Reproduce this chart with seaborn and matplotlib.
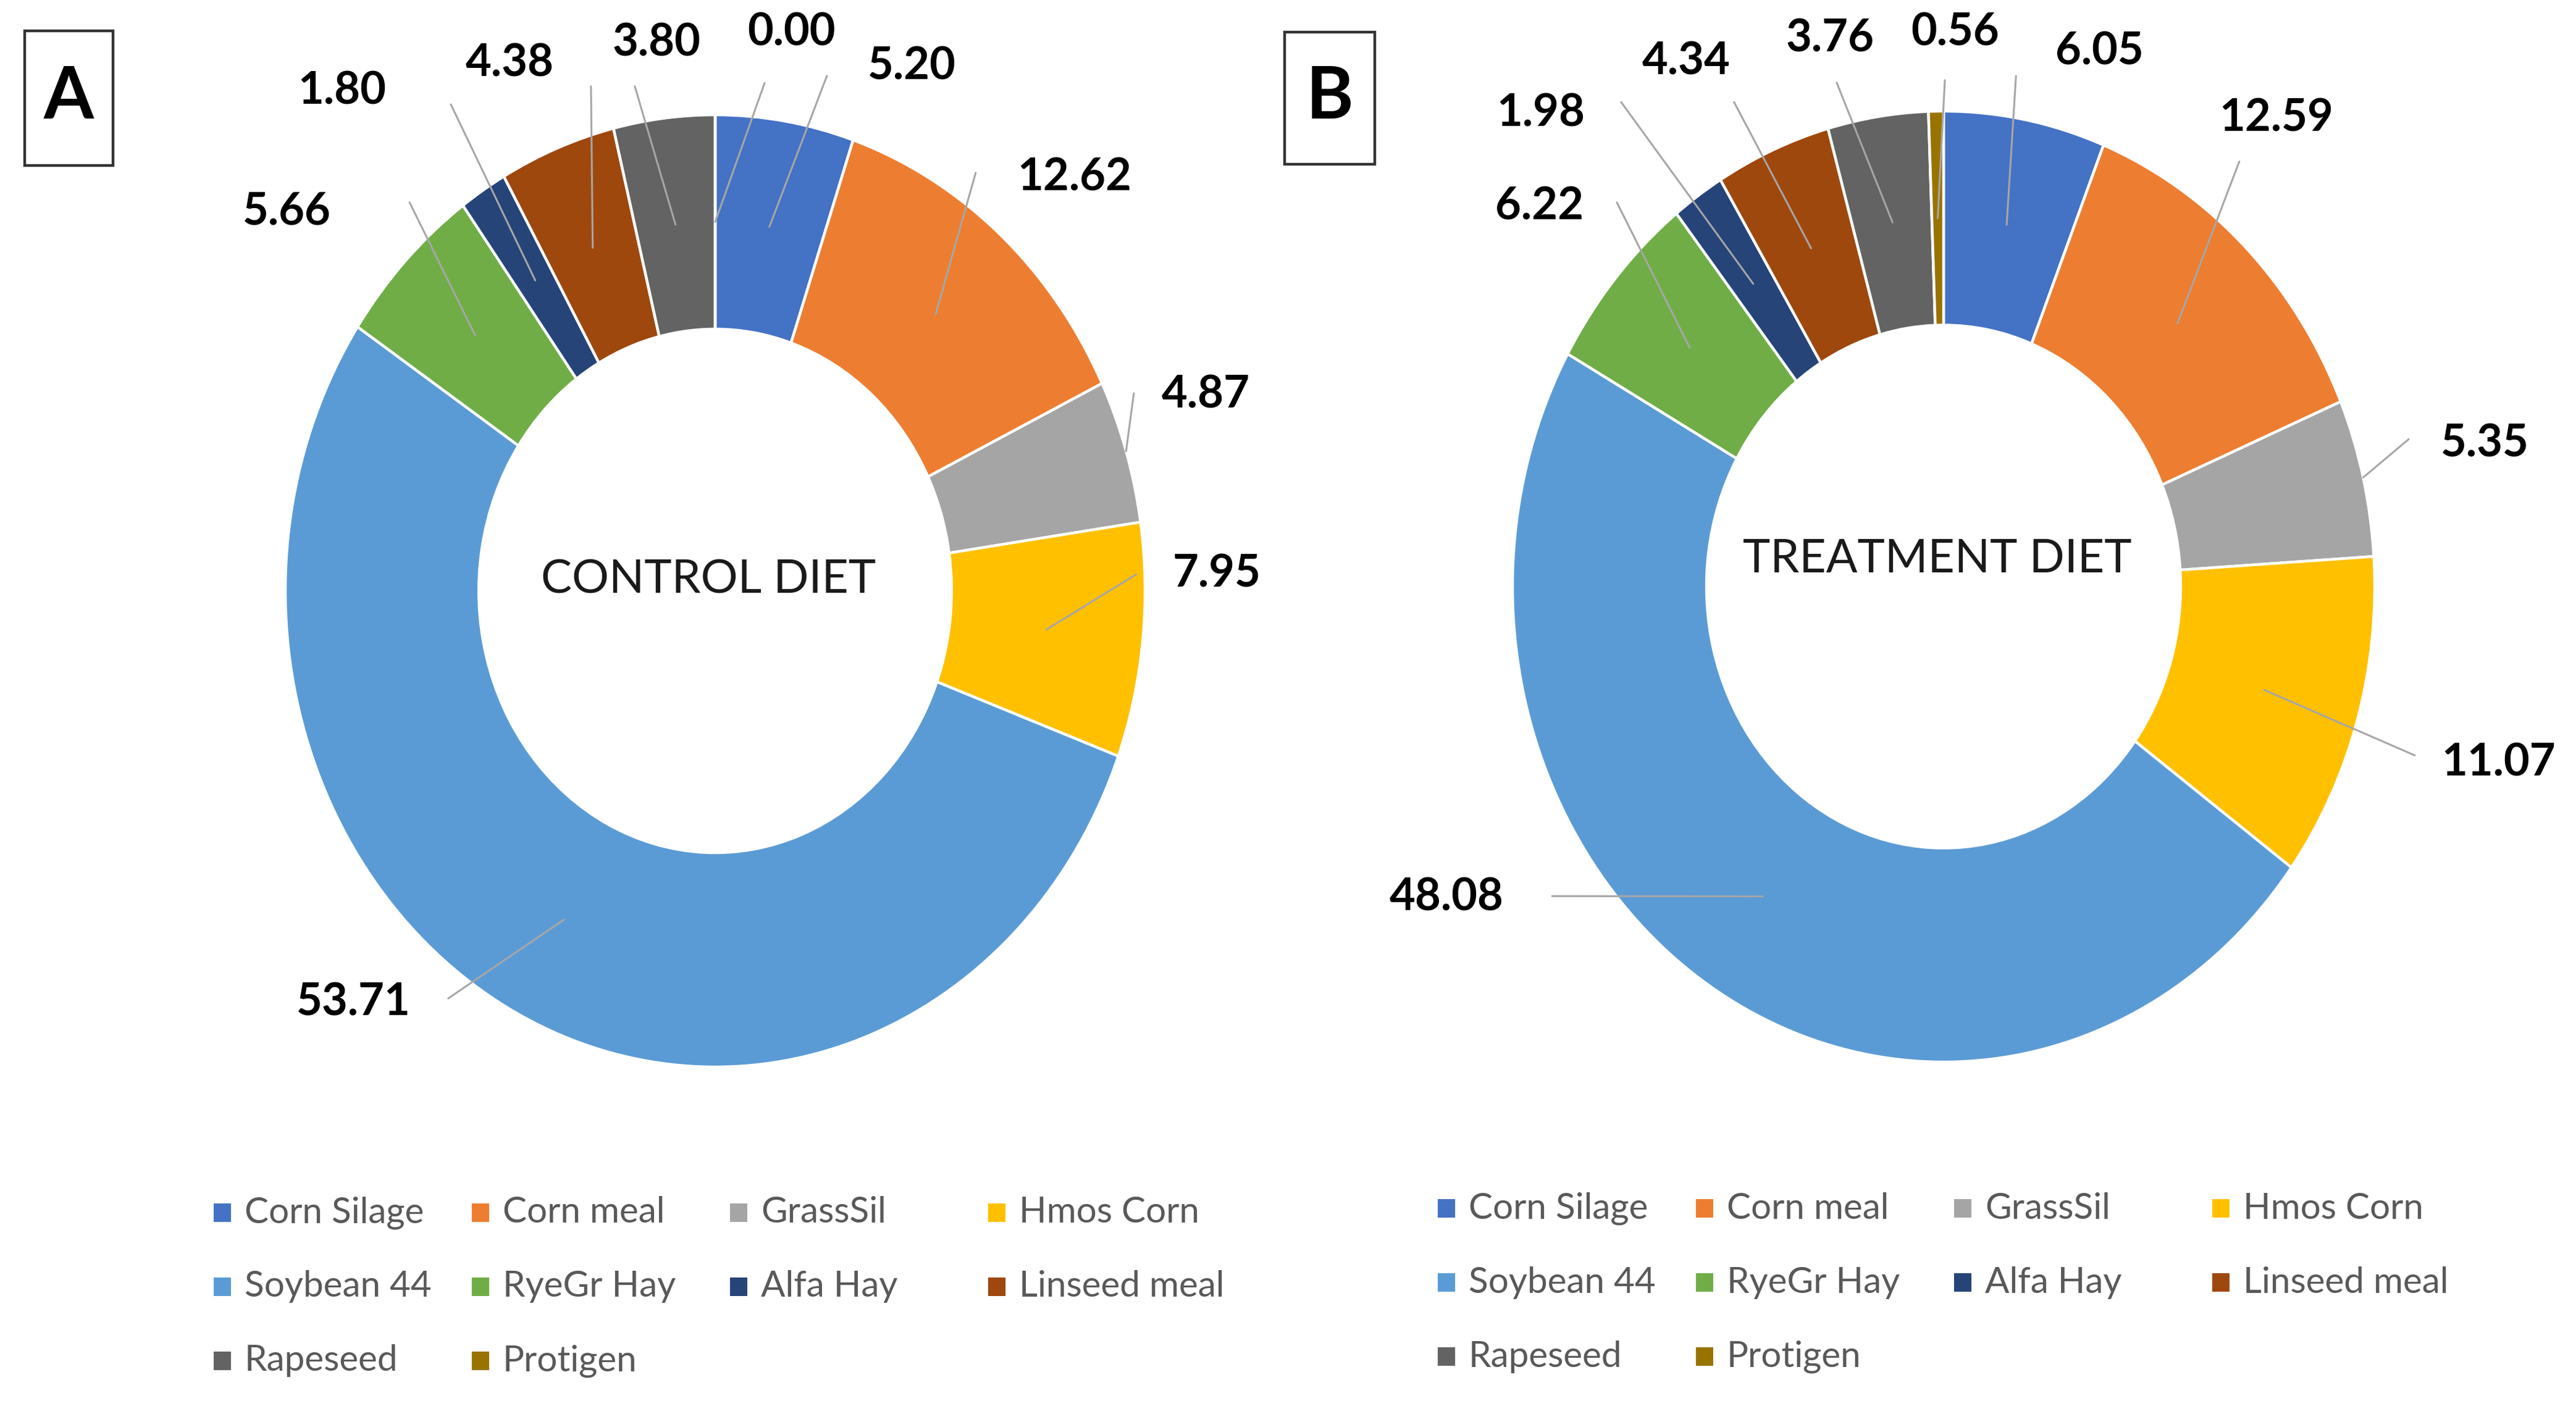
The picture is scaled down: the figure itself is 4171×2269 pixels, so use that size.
import numpy as np
import matplotlib
matplotlib.use("Agg")
import matplotlib.pyplot as plt
import seaborn as sns
from matplotlib.patches import Rectangle

# --- data ---
categories = ["Corn Silage", "Corn meal", "GrassSil", "Hmos Corn", "Soybean 44",
              "RyeGr Hay", "Alfa Hay", "Linseed meal", "Rapeseed", "Protigen"]
control_values = [5.20, 12.62, 4.87, 7.95, 53.71, 5.66, 1.80, 4.38, 3.80, 0.00]
treatment_values = [6.05, 12.59, 5.35, 11.07, 48.08, 6.22, 1.98, 4.34, 3.76, 0.56]
colors = ["#4472C4", "#ED7D31", "#A5A5A5", "#FFC000", "#5B9BD5",
          "#70AD47", "#264478", "#9E480E", "#636363", "#997300"]

# label positions (data units of each donut, radius = 1)
text_pos_A = [(0.457, 1.101), (0.836, 0.868), (1.141, 0.411), (1.167, 0.035), (-0.841, -0.865),
              (-0.996, 0.796), (-0.868, 1.049), (-0.478, 1.108), (-0.136, 1.150), (0.178, 1.173)]
line_end_A = [(0.260, 1.082), (0.606, 0.878), (0.974, 0.415), (0.980, 0.035), (-0.621, -0.856),
              (-0.711, 0.816), (-0.615, 1.022), (-0.289, 1.060), (-0.187, 1.060), (0.115, 1.067)]
text_pos_B = [(0.362, 1.125), (0.772, 0.984), (1.255, 0.300), (1.287, -0.371), (-1.153, -0.655),
              (-0.937, 0.799), (-0.935, 0.995), (-0.597, 1.104), (-0.263, 1.152), (0.027, 1.165)]
line_end_B = [(0.168, 1.074), (0.686, 0.894), (1.079, 0.310), (1.093, -0.355), (-0.908, -0.651),
              (-0.758, 0.808), (-0.748, 1.019), (-0.486, 1.019), (-0.248, 1.060), (0.003, 1.065)]

W, H, DPI = 4171, 2269, 200

sns.set_theme(style="white")
plt.rcParams['font.family'] = ['Lato', 'DejaVu Sans']
palette = sns.color_palette(colors)

fig = plt.figure(figsize=(W / DPI, H / DPI), dpi=DPI)
fig.patch.set_facecolor("white")

panels = [
    dict(values=control_values, title="CONTROL DIET", letter="A", cx=1158, cy=957, rx=696, ry=771,
         text_pos=text_pos_A, line_end=line_end_A, title_xy=(-0.016, 0.023),
         box=(40, 50, 183, 268), leg=(346, 1964)),
    dict(values=treatment_values, title="TREATMENT DIET", letter="B", cx=3147, cy=950, rx=698, ry=770,
         text_pos=text_pos_B, line_end=line_end_B, title_xy=(-0.014, 0.058),
         box=(2080, 52, 2226, 266), leg=(2328, 1957)),
]

for p in panels:
    ax = fig.add_axes([(p["cx"] - p["rx"]) / W, (H - p["cy"] - p["ry"]) / H,
                       2 * p["rx"] / W, 2 * p["ry"] / H])
    wedges, _ = ax.pie(p["values"], colors=palette, startangle=90, counterclock=False,
                       wedgeprops=dict(width=0.45, edgecolor="white", linewidth=1.6))
    ax.set_aspect("auto")
    ax.set_xlim(-1, 1)
    ax.set_ylim(-1, 1)
    ax.axis("off")

    # value labels with leader lines
    for i, (w, v) in enumerate(zip(wedges, p["values"])):
        ang = np.deg2rad((w.theta1 + w.theta2) / 2)
        r = 1.0 if categories[i] == "GrassSil" else 0.775
        x0, y0 = r * np.cos(ang), r * np.sin(ang)
        x1, y1 = p["line_end"][i]
        ax.plot([x0, x1], [y0, y1], color="#A6A6A6", lw=1.1, clip_on=False, zorder=3)
        tx, ty = p["text_pos"][i]
        ax.text(tx, ty, f"{v:.2f}", ha="center", va="center", fontsize=26,
                fontweight="bold", color="black", clip_on=False)

    ax.text(*p["title_xy"], p["title"], ha="center", va="center", fontsize=27, color="#1a1a1a")

    # panel letter in a box
    x0, y0, x1, y1 = p["box"]
    fig.add_artist(Rectangle((x0 / W, 1 - y1 / H), (x1 - x0) / W, (y1 - y0) / H,
                             transform=fig.transFigure, fill=False, edgecolor="#333333", lw=1.6))
    fig.text((x0 + x1) / 2 / W, 1 - (y0 + y1) / 2 / H, p["letter"], ha="center", va="center",
             fontsize=42, fontweight="bold", color="black")

    # legend (Excel style, row-major, 4 columns)
    lx, ly = p["leg"]
    for i, name in enumerate(categories):
        row, col = divmod(i, 4)
        mx = lx + col * 418
        my = ly + row * 120
        fig.add_artist(Rectangle((mx / W, 1 - (my + 15) / H), 28 / W, 30 / H,
                                 transform=fig.transFigure, facecolor=palette[i], edgecolor="none"))
        fig.text((mx + 50) / W, 1 - my / H, name, ha="left", va="center",
                 fontsize=21, color="#595959")

fig.savefig("out.png", dpi=DPI, facecolor="white")
plt.close(fig)
